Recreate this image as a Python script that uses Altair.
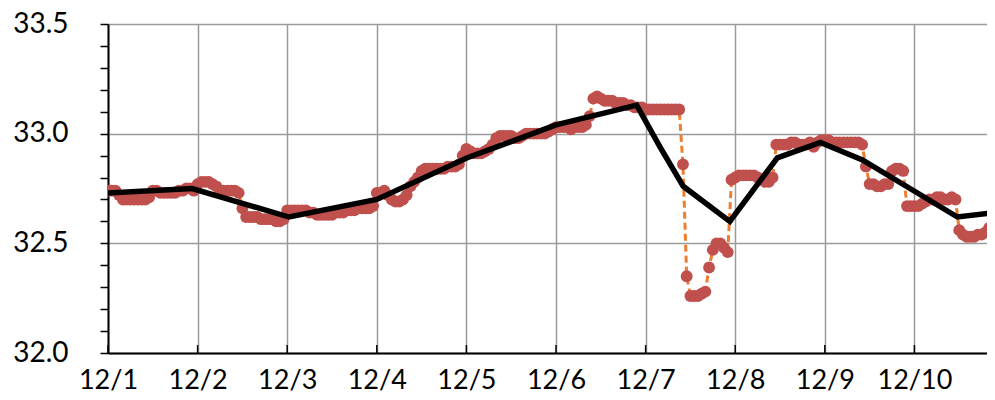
import json
import altair as alt
import pandas as pd

# ---------------- data ----------------
x_labels = ["12/1", "12/2", "12/3", "12/4", "12/5", "12/6", "12/7", "12/8", "12/9", "12/10"]
x_tick_values = [0, 1, 2, 3, 4, 5, 6, 7, 8, 9]
y_tick_values = [32.0, 32.1, 32.2, 32.3, 32.4, 32.5, 32.6, 32.7, 32.8, 32.9,
                 33.0, 33.1, 33.2, 33.3, 33.4, 33.5]

# hourly observations, one list per day
day0 = [32.74, 32.74, 32.74, 32.72, 32.70, 32.70, 32.70, 32.70, 32.70, 32.70, 32.70, 32.71,
        32.74, 32.74, 32.73, 32.73, 32.73, 32.73, 32.73, 32.74, 32.74, 32.75, 32.75, 32.74]
day1 = [32.77, 32.78, 32.78, 32.78, 32.77, 32.76, 32.74, 32.74, 32.74, 32.74, 32.74, 32.73,
        32.66, 32.62, 32.62, 32.62, 32.62, 32.61, 32.61, 32.61, 32.61, 32.60, 32.60, 32.61]
day2 = [32.65, 32.65, 32.65, 32.65, 32.65, 32.65, 32.64, 32.64, 32.63, 32.63, 32.63, 32.63,
        32.63, 32.64, 32.64, 32.64, 32.65, 32.65, 32.65, 32.66, 32.66, 32.66, 32.66, 32.67]
day3 = [32.73, 32.73, 32.74, 32.72, 32.70, 32.69, 32.69, 32.70, 32.72, 32.76, 32.78, 32.80,
        32.83, 32.84, 32.84, 32.84, 32.84, 32.84, 32.84, 32.85, 32.85, 32.85, 32.86, 32.90]
day4 = [32.93, 32.92, 32.91, 32.91, 32.91, 32.92, 32.93, 32.95, 32.98, 32.99, 32.99, 32.99,
        32.99, 32.98, 32.98, 32.99, 33.00, 33.00, 33.00, 33.00, 33.00, 33.00, 33.01, 33.02]
day5 = [33.03, 33.03, 33.03, 33.03, 33.02, 33.03, 33.03, 33.03, 33.04, 33.08, 33.16, 33.17,
        33.16, 33.15, 33.15, 33.15, 33.14, 33.14, 33.14, 33.13, 33.13, 33.12, 33.12, 33.12]
day6 = [33.11, 33.11, 33.11, 33.11, 33.11, 33.11, 33.11, 33.11, 33.11, 33.11, 32.86, 32.35,
        32.26, 32.26, 32.26, 32.27, 32.28, 32.39, 32.47, 32.50, 32.50, 32.48, 32.46, 32.79]
day7 = [32.80, 32.81, 32.81, 32.81, 32.81, 32.81, 32.80, 32.79, 32.78, 32.78, 32.80, 32.95,
        32.95, 32.95, 32.95, 32.96, 32.96, 32.95, 32.95, 32.95, 32.96, 32.94, 32.96, 32.97]
day8 = [32.97, 32.97, 32.96, 32.96, 32.96, 32.96, 32.96, 32.96, 32.96, 32.96, 32.95, 32.85,
        32.77, 32.77, 32.76, 32.76, 32.77, 32.77, 32.83, 32.84, 32.84, 32.83, 32.67, 32.67]
day9 = [32.67, 32.67, 32.68, 32.69, 32.70, 32.70, 32.71, 32.71, 32.70, 32.70, 32.71, 32.70,
        32.56, 32.54, 32.53, 32.53, 32.53, 32.54, 32.54, 32.55, 32.57, 32.60, 32.61]

# smoothed (black) line vertices: day offset and value
smooth_days = [0.0, 0.94, 2.02, 3.0, 4.01, 5.0, 5.9, 6.16, 6.42, 6.94, 7.47, 7.95, 8.42, 9.48, 9.9]
smooth_vals = [32.73, 32.75, 32.62, 32.70, 32.89, 33.04, 33.13, 32.94, 32.76, 32.60, 32.89,
               32.96, 32.88, 32.62, 32.64]

# ---------------- tables ----------------
hourly = day0 + day1 + day2 + day3 + day4 + day5 + day6 + day7 + day8 + day9
obs = pd.DataFrame({"t": [i / 24 for i in range(len(hourly))], "v": hourly})
smooth = pd.DataFrame({"t": smooth_days, "v": smooth_vals})
ticks_df = pd.DataFrame({"t": x_tick_values})

W, H = 879, 329
FONT = "Lato"
GRID = "#9a9a9a"

xscale = alt.Scale(domain=[0, 9.81], nice=False, zero=False)
yscale = alt.Scale(domain=[32.0, 33.5], nice=False, zero=False)

major = "abs(datum.value*2 - round(datum.value*2)) < 0.001"
label_map = json.dumps(x_labels)

x_axis = alt.Axis(
    values=x_tick_values,
    labelExpr=f"{label_map}[round(datum.value)]",
    title=None,
    grid=True,
    gridColor=GRID,
    gridWidth=1.5,
    ticks=False,
    domainColor="black",
    domainWidth=2,
    labelFont=FONT,
    labelFontSize=27,
    labelColor="black",
    labelPadding=14,
    labelFlush=False,
)
y_axis = alt.Axis(
    values=y_tick_values,
    labelExpr=f"{major} ? format(datum.value, '.1f') : ''",
    title=None,
    grid=True,
    gridColor=GRID,
    gridWidth=1.5,
    gridOpacity={"condition": {"test": major, "value": 1}, "value": 0},
    tickSize=8,
    tickColor="black",
    tickWidth=1.5,
    domainColor="black",
    domainWidth=2,
    labelFont=FONT,
    labelFontSize=28,
    labelColor="black",
    labelPadding=32,
    labelFlush=False,
)

X = alt.X("t:Q", scale=xscale, axis=x_axis)
Y = alt.Y("v:Q", scale=yscale, axis=y_axis)

dashed = alt.Chart(obs).mark_line(
    color="#ED7D31", strokeWidth=3, strokeDash=[7, 4], clip=True
).encode(x=X, y=Y)

dots = alt.Chart(obs).mark_circle(
    color="#C0504D", size=140, opacity=1, clip=True
).encode(x=X, y=Y)

black = alt.Chart(smooth).mark_line(
    color="black", strokeWidth=5.5, clip=True, strokeJoin="miter"
).encode(x=X, y=Y)

inner_ticks = alt.Chart(ticks_df).mark_rule(color="black", strokeWidth=1.5).encode(
    x=X,
    y=alt.value(H - 8),
    y2=alt.value(H),
)

chart = (
    alt.layer(dashed, dots, black, inner_ticks)
    .properties(
        width=W,
        height=H,
        autosize=alt.AutoSizeParams(type="none"),
        padding={"left": 100, "top": 16, "right": 0, "bottom": 44},
        background="white",
    )
    .configure_view(strokeWidth=0)
)

chart.save("out.html", embed_options={"renderer": "svg", "actions": False})
